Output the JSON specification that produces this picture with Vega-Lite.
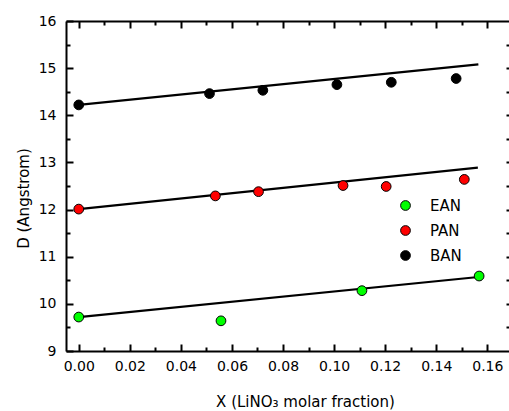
{
  "$schema": "https://vega.github.io/schema/vega-lite/v6.json",
  "width": 443,
  "height": 330,
  "autosize": {"type": "none"},
  "padding": {"left": 66, "top": 21, "right": 0, "bottom": 60},
  "background": "white",
  "config": {
    "font": "DejaVu Sans",
    "view": {"stroke": null},
    "axis": {"grid": false}
  },
  "datasets": {
    "pts": [
      {"X": 0.0, "D": 9.72, "series": "EAN"},
      {"X": 0.0557, "D": 9.64, "series": "EAN"},
      {"X": 0.1109, "D": 10.28, "series": "EAN"},
      {"X": 0.1568, "D": 10.59, "series": "EAN"},
      {"X": 0.0, "D": 12.01, "series": "PAN"},
      {"X": 0.0535, "D": 12.29, "series": "PAN"},
      {"X": 0.0704, "D": 12.38, "series": "PAN"},
      {"X": 0.1035, "D": 12.51, "series": "PAN"},
      {"X": 0.1204, "D": 12.49, "series": "PAN"},
      {"X": 0.151, "D": 12.64, "series": "PAN"},
      {"X": 0.0, "D": 14.22, "series": "BAN"},
      {"X": 0.0512, "D": 14.46, "series": "BAN"},
      {"X": 0.0721, "D": 14.53, "series": "BAN"},
      {"X": 0.1011, "D": 14.65, "series": "BAN"},
      {"X": 0.1224, "D": 14.7, "series": "BAN"},
      {"X": 0.1478, "D": 14.78, "series": "BAN"}
    ],
    "fit": [
      {"X": 0.0, "D": 9.72, "series": "EAN"},
      {"X": 0.1565, "D": 10.57, "series": "EAN"},
      {"X": 0.0, "D": 12.01, "series": "PAN"},
      {"X": 0.1563, "D": 12.89, "series": "PAN"},
      {"X": 0.0, "D": 14.22, "series": "BAN"},
      {"X": 0.1565, "D": 15.08, "series": "BAN"}
    ]
  },
  "layer": [
    {
      "data": {"name": "pts"},
      "mark": {"type": "point", "opacity": 0},
      "encoding": {
        "x": {
          "field": "X", "type": "quantitative",
          "scale": {"domain": [-0.005, 0.1685], "nice": false, "zero": false},
          "axis": {"orient": "bottom", "title": null, "labels": false, "domain": false, "tickSize": -4, "tickColor": "black", "tickWidth": 2,
            "values": [0.01, 0.03, 0.05, 0.07, 0.09, 0.11, 0.13, 0.15]}
        },
        "y": {
          "field": "D", "type": "quantitative",
          "scale": {"domain": [9, 16], "nice": false, "zero": false},
          "axis": {"orient": "left", "title": null, "labels": false, "domain": false, "tickSize": -4, "tickColor": "black", "tickWidth": 2,
            "values": [9.5, 10.5, 11.5, 12.5, 13.5, 14.5, 15.5]}
        }
      }
    },
    {
      "data": {"name": "pts"},
      "mark": {"type": "point", "opacity": 0},
      "encoding": {
        "x": {
          "field": "X", "type": "quantitative",
          "axis": {"orient": "top", "title": null, "labels": false, "domain": false, "tickSize": -4, "tickColor": "black", "tickWidth": 2,
            "values": [0.01, 0.03, 0.05, 0.07, 0.09, 0.11, 0.13, 0.15]}
        },
        "y": {
          "field": "D", "type": "quantitative",
          "axis": {"orient": "right", "title": null, "labels": false, "domain": false, "tickSize": -3, "tickColor": "black", "tickWidth": 2,
            "values": [9.5, 10, 10.5, 11, 11.5, 12, 12.5, 13, 13.5, 14, 14.5, 15, 15.5]}
        }
      }
    },
    {
      "data": {"name": "fit"},
      "mark": {"type": "line", "color": "black", "strokeWidth": 2.2},
      "encoding": {
        "x": {
          "field": "X", "type": "quantitative",
          "axis": {
            "orient": "bottom",
            "title": "X (LiNO₃ molar fraction)",
            "tickSize": -7, "tickColor": "black", "tickWidth": 2,
            "domainColor": "black", "domainWidth": 2,
            "values": [0, 0.02, 0.04, 0.06, 0.08, 0.1, 0.12, 0.14, 0.16],
            "format": ".2f",
            "labelPadding": 15, "labelFontSize": 14, "labelColor": "black",
            "titleFontSize": 15, "titleFontWeight": "normal", "titleColor": "black",
            "titleX": 239, "titleY": 50, "titleBaseline": "middle", "titleAlign": "center", "titleAnchor": null
          }
        },
        "y": {
          "field": "D", "type": "quantitative",
          "axis": {
            "orient": "left",
            "title": "D (Angstrom)",
            "tickSize": -7, "tickColor": "black", "tickWidth": 2,
            "domainColor": "black", "domainWidth": 2,
            "values": [9, 10, 11, 12, 13, 14, 15, 16],
            "format": "d",
            "labelPadding": 17, "labelFontSize": 14, "labelColor": "black",
            "titleFontSize": 15, "titleFontWeight": "normal", "titleColor": "black",
            "titleX": -43, "titleY": 177, "titleBaseline": "middle", "titleAlign": "center", "titleAnchor": null, "titleAngle": 270
          }
        },
        "detail": {"field": "series"}
      }
    },
    {
      "data": {"name": "pts"},
      "mark": {"type": "point", "shape": "circle", "filled": true, "size": 95, "stroke": "black", "strokeWidth": 1, "opacity": 1},
      "encoding": {
        "x": {
          "field": "X", "type": "quantitative",
          "axis": {"orient": "top", "title": null, "labels": false, "tickSize": -7, "tickColor": "black", "tickWidth": 2,
            "domainColor": "black", "domainWidth": 2,
            "values": [0, 0.02, 0.04, 0.06, 0.08, 0.1, 0.12, 0.14, 0.16]}
        },
        "y": {"field": "D", "type": "quantitative", "axis": null},
        "color": {
          "field": "series", "type": "nominal",
          "scale": {"domain": ["EAN", "PAN", "BAN"], "range": ["#00ff00", "#ff0000", "#000000"]},
          "legend": {
            "title": null,
            "orient": "none",
            "legendX": 332,
            "legendY": 177,
            "padding": 0,
            "symbolType": "circle",
            "symbolSize": 95,
            "symbolStrokeColor": "black",
            "symbolStrokeWidth": 1,
            "symbolOpacity": 1,
            "labelFontSize": 15,
            "labelFont": "DejaVu Sans",
            "labelColor": "black",
            "labelOffset": 17,
            "rowPadding": 9
          }
        }
      }
    }
  ],
  "resolve": {"axis": {"x": "independent", "y": "independent"}}
}
